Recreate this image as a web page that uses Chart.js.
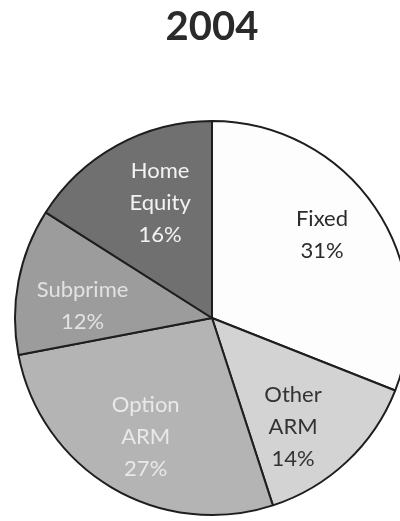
<!DOCTYPE html>
<html>
<head>
<meta charset="utf-8">
<script src="https://cdn.jsdelivr.net/npm/chart.js@4.4.0/dist/chart.umd.min.js"></script>
<style>
  html, body { margin: 0; padding: 0; background: #ffffff; overflow: hidden; width: 400px; height: 521px; }
  #wrap { position: absolute; left: 0; top: 0; width: 424px; height: 521px; }
</style>
</head>
<body>
<div id="wrap"><canvas id="c"></canvas></div>
<script>
// Data
const titleText = "2004";
const categories = ["Fixed", "Other ARM", "Option ARM", "Subprime", "Home Equity"];
const shares = [31, 14, 27, 12, 16];

// Styles
const sliceColors = ["#fdfdfd", "#d3d3d3", "#b4b4b4", "#9c9c9c", "#707070"];
const labelColors = ["#2b2b2b", "#333333", "#e9e9e9", "#e2e2e2", "#f3f3f3"];
const labelAngleShift = [-2.9, 6.6, -1.4, -5.5, 4.5];   // degrees
const labelRadius = [0.70, 0.69, 0.69, 0.66, 0.64];     // fraction of outer radius

const sliceLabels = {
  id: 'sliceLabels',
  afterDatasetsDraw(chart) {
    const ctx = chart.ctx;
    const meta = chart.getDatasetMeta(0);
    ctx.save();
    ctx.font = '22px Lato';
    ctx.textAlign = 'center';
    ctx.textBaseline = 'middle';
    const lh = 32;
    meta.data.forEach((arc, i) => {
      const p = arc.getProps(['x', 'y', 'startAngle', 'endAngle', 'outerRadius'], true);
      const mid = (p.startAngle + p.endAngle) / 2 + labelAngleShift[i] * Math.PI / 180;
      const r = p.outerRadius * labelRadius[i];
      const cx = p.x + Math.cos(mid) * r;
      const cy = p.y + Math.sin(mid) * r;
      const lines = categories[i].split(' ').concat([shares[i] + '%']);
      ctx.fillStyle = labelColors[i];
      const y0 = cy - (lines.length - 1) * lh / 2;
      lines.forEach((t, k) => ctx.fillText(t, cx, y0 + k * lh));
    });
    ctx.restore();
  }
};

new Chart(document.getElementById('c'), {
  type: 'pie',
  data: {
    labels: categories,
    datasets: [{
      data: shares,
      backgroundColor: sliceColors,
      borderColor: '#1e1e1e',
      borderWidth: 2
    }]
  },
  options: {
    responsive: true,
    maintainAspectRatio: false,
    animation: false,
    layout: { padding: { top: 0, bottom: 5, left: 0, right: 0 } },
    plugins: {
      legend: { display: false },
      tooltip: { enabled: false },
      title: {
        display: true,
        text: titleText,
        color: '#2a2a2a',
        font: { family: 'Lato', size: 40, weight: 'bold', lineHeight: 1.2 },
        padding: { top: 3, bottom: 69 }
      }
    }
  },
  plugins: [sliceLabels]
});
</script>
</body>
</html>
